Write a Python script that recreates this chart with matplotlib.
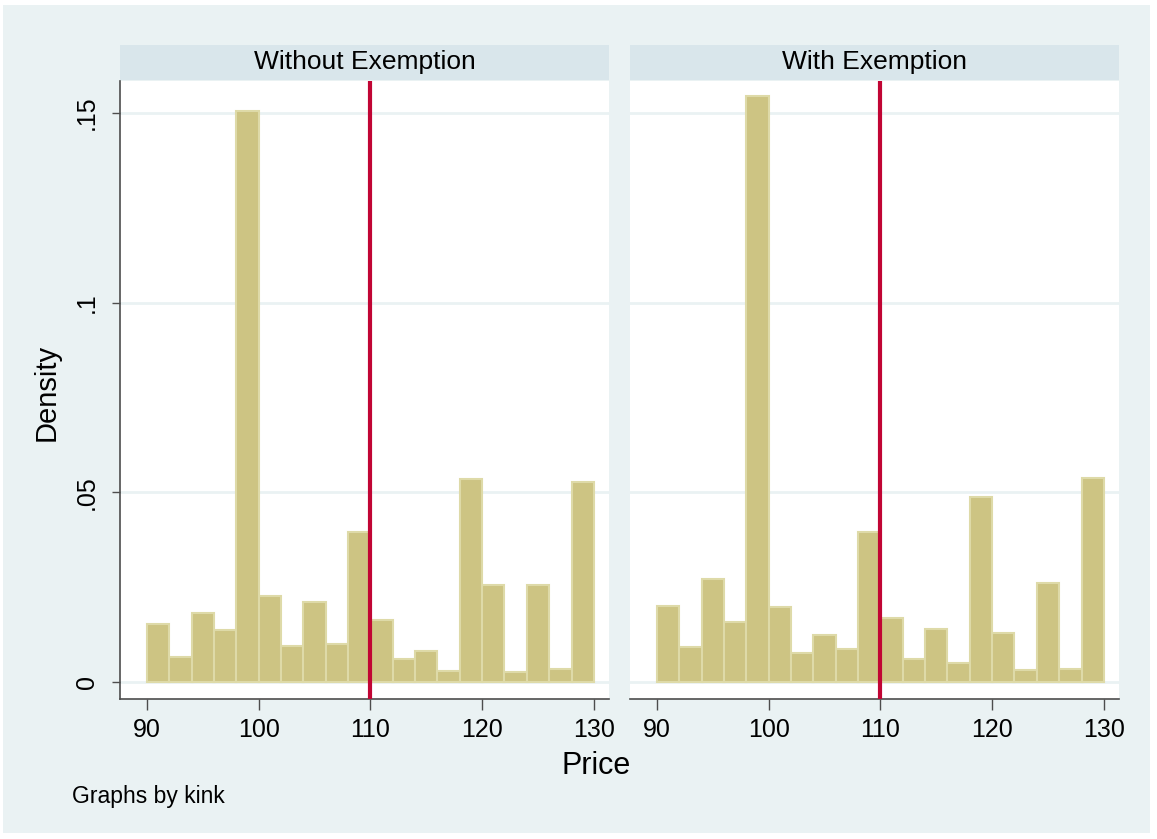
import matplotlib
matplotlib.use("Agg")
import matplotlib.pyplot as plt
from matplotlib.patches import Rectangle

plt.rcParams['font.family'] = ['Liberation Sans', 'DejaVu Sans']

# histogram bins (price), width 2 from 90 to 130
bin_edges = [90, 92, 94, 96, 98, 100, 102, 104, 106, 108, 110,
             112, 114, 116, 118, 120, 122, 124, 126, 128, 130]
dens_without = [0.0153, 0.0065, 0.0181, 0.0137, 0.1506, 0.0227, 0.0096, 0.0212, 0.0100, 0.0394,
                0.0162, 0.0060, 0.0081, 0.0028, 0.0534, 0.0256, 0.0025, 0.0256, 0.0034, 0.0527]
dens_with = [0.0199, 0.0091, 0.0272, 0.0159, 0.1544, 0.0197, 0.0075, 0.0125, 0.0088, 0.0394,
             0.0168, 0.0060, 0.0140, 0.0049, 0.0488, 0.0130, 0.0031, 0.0261, 0.0034, 0.0537]
panels = ["Without Exemption", "With Exemption"]
kink = 110
yticks = [0, 0.05, 0.1, 0.15]
ytick_labels = ["0", ".05", ".1", ".15"]
xticks = [90, 100, 110, 120, 130]

bg = "#eaf2f3"
strip_col = "#d9e6eb"
bar_col = "#cdc483"
bar_edge = "#dedaa8"
line_col = "#c10534"
axis_col = "#4d4d4d"

W, H = 1157, 839
fig = plt.figure(figsize=(W / 100, H / 100), dpi=100)
fig.patch.set_facecolor("white")
fig.add_artist(Rectangle((3 / W, 1 - 833 / H), 1147 / W, 828 / H,
                         transform=fig.transFigure, facecolor=bg, edgecolor="none", zorder=-10))

lefts = [120, 630]
for i, (name, dens) in enumerate(zip(panels, [dens_without, dens_with])):
    x0 = lefts[i]
    ax = fig.add_axes([x0 / W, 1 - 699 / H, 489 / W, 618 / H])
    ax.set_facecolor("white")
    widths = [bin_edges[k + 1] - bin_edges[k] for k in range(len(dens))]
    ax.bar(bin_edges[:-1], dens, width=widths, align="edge", color=bar_col,
           edgecolor=bar_edge, linewidth=1.5, zorder=2)
    ax.axvline(kink, color=line_col, linewidth=3, zorder=3)
    ax.set_xlim(87.6, 131.35)
    ax.set_ylim(-0.0045, 0.1584)
    ax.set_yticks(yticks)
    ax.grid(axis="y", color=bg, linewidth=2, zorder=1)
    ax.set_xticks(xticks)
    ax.tick_params(axis="x", length=8, width=1, color=axis_col, labelsize=18, pad=6)
    for s in ["top", "right"]:
        ax.spines[s].set_visible(False)
    ax.spines["bottom"].set_color(axis_col)
    ax.spines["bottom"].set_linewidth(1.2)
    if i == 0:
        ax.set_yticklabels(ytick_labels)
        ax.tick_params(axis="y", length=6, width=1, color=axis_col, labelsize=18, pad=9)
        for lab in ax.get_yticklabels():
            lab.set_rotation(90)
            lab.set_va("center")
        ax.spines["left"].set_color(axis_col)
        ax.spines["left"].set_linewidth(1.2)
    else:
        ax.set_yticklabels([])
        ax.tick_params(axis="y", length=0)
        ax.spines["left"].set_visible(False)

    # facet strip
    sax = fig.add_axes([x0 / W, 1 - 80 / H, 489 / W, 35 / H])
    sax.set_facecolor(strip_col)
    sax.set_xticks([])
    sax.set_yticks([])
    for s in sax.spines.values():
        s.set_visible(False)
    sax.text(0.5, 0.5, name, ha="center", va="center", fontsize=19, transform=sax.transAxes)

fig.text(47 / W, 1 - 392 / H, "Density", rotation=90, ha="center", va="center", fontsize=21)
fig.text(596 / W, 1 - 766 / H, "Price", ha="center", va="center", fontsize=22)
fig.text(72 / W, 1 - 797 / H, "Graphs by kink", ha="left", va="center", fontsize=16.5)

fig.savefig("out.png", dpi=100, facecolor=fig.get_facecolor())
